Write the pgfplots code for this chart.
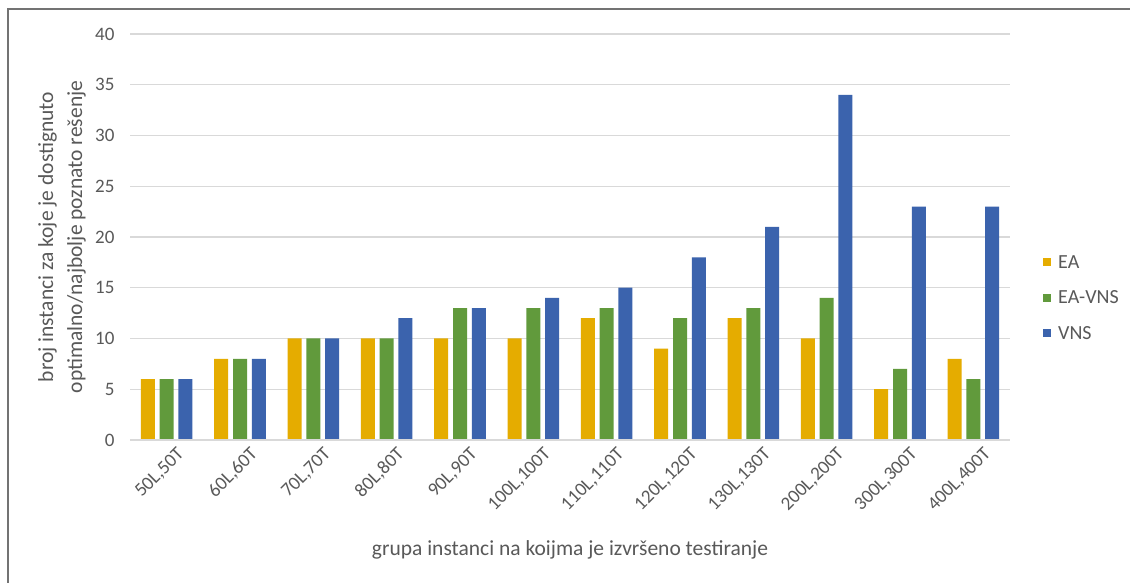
\documentclass[border=0pt]{standalone}
\usepackage{fontspec}
\setmainfont{Carlito}
\usepackage{pgfplots}
\pgfplotsset{compat=1.18}
\usepackage{pgfplotstable}

\definecolor{txtgray}{RGB}{89,89,89}
\definecolor{gridgray}{RGB}{217,217,217}
\definecolor{cEA}{RGB}{229,172,0}
\definecolor{cEAVNS}{RGB}{97,154,60}
\definecolor{cVNS}{RGB}{59,99,173}

% number of instances reaching the optimal / best known solution
\pgfplotstableread{
x EA EAVNS VNS
0  6  6  6
1  8  8  8
2  10 10 10
3  10 10 12
4  10 13 13
5  10 13 14
6  12 13 15
7  9  12 18
8  12 13 21
9  10 14 34
10 5  7  23
11 8  6  23
}\results

\begin{document}
\begin{tikzpicture}[x=1pt,y=1pt]
\useasboundingbox (0,0) rectangle (1130,583);
\fill[white] (0,0) rectangle (1130,583);
% outer frame (left and top edges)
\draw[line width=2pt, black!55] (8,0) -- (8,573.5) -- (1130,573.5);

\begin{axis}[
  at={(130pt,143pt)}, anchor=south west,
  scale only axis,
  width=880pt, height=406pt,
  xmin=-0.5, xmax=11.5,
  ymin=0, ymax=40,
  ytick={0,5,...,40},
  xtick=data,
  xticklabels={{50L,50T},{60L,60T},{70L,70T},{80L,80T},{90L,90T},{100L,100T},{110L,110T},{120L,120T},{130L,130T},{200L,200T},{300L,300T},{400L,400T}},
  ybar=4.8pt,
  bar width=14pt,
  axis line style={draw=none},
  major tick length=0pt,
  ymajorgrids,
  grid style={gridgray, line width=1.3pt},
  /pgf/number format/assume math mode=true,
  every tick label/.append style={font=\fontsize{19}{22}\selectfont, text=txtgray},
  yticklabel style={xshift=-12pt},
  xticklabel style={xshift=17pt, yshift=-9pt, rotate=45, anchor=east},
  xlabel={grupa instanci na koijma je izvršeno testiranje},
  xlabel style={at={(axis description cs:0.5,-0.271)}, anchor=center, font=\fontsize{21.5}{24}\selectfont, text=txtgray},
  ylabel={broj instanci za koje je dostignuto\\optimalno/najbolje poznato rešenje},
  ylabel style={at={(axis description cs:-0.0773,0.5)}, anchor=center, align=center, font=\fontsize{21.5}{29}\selectfont, text=txtgray},
  legend cell align=left,
  legend style={at={(axis description cs:1.0375,0.35)}, anchor=west, draw=none, fill=none, inner sep=0pt,
    font=\fontsize{20}{22}\selectfont, text=txtgray, row sep=17pt},
  legend image code/.code={\fill[#1] (0pt,-4pt) rectangle (8pt,4pt); \path (13pt,0pt);},
]
\addplot[fill=cEA, draw=none] table[x=x, y=EA] {\results};
\addplot[fill=cEAVNS, draw=none] table[x=x, y=EAVNS] {\results};
\addplot[fill=cVNS, draw=none] table[x=x, y=VNS] {\results};
\draw[gridgray, line width=1.3pt] (axis cs:-0.5,0) -- (axis cs:11.5,0);
\legend{EA, EA-VNS, VNS}
\end{axis}
\end{tikzpicture}
\end{document}
